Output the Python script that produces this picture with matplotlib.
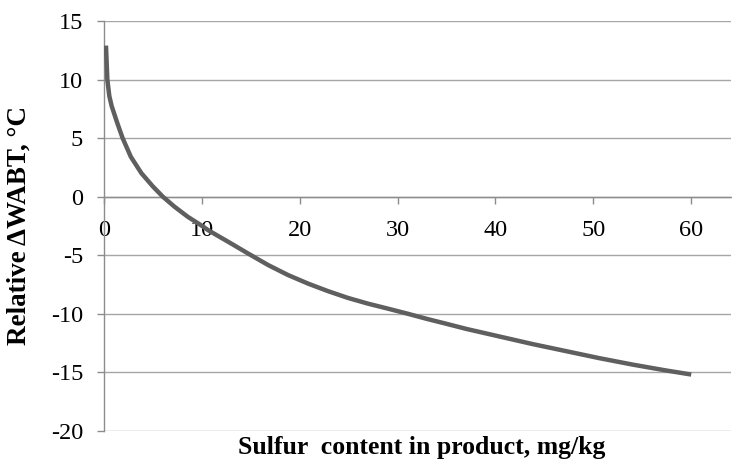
import matplotlib
matplotlib.use('Agg')
import matplotlib.pyplot as plt

# values
sulfur = [0.2, 0.34, 0.54, 0.78, 1.35, 1.9, 2.74, 3.82, 5.0, 6.0, 7.2, 8.55, 9.9, 10.7,
          12.77, 14.8, 16.8, 18.8, 20.9, 22.9, 24.9, 26.95, 29.0, 31.0, 33.0, 35.05,
          37.0, 40.4, 43.8, 47.2, 50.6, 54.0, 57.4, 60.0]
dwabt = [12.9, 10.0, 8.6, 7.74, 6.3, 5.0, 3.4, 2.0, 0.86, 0.0, -0.86, -1.72, -2.44, -2.9,
         -3.9, -4.9, -5.86, -6.7, -7.45, -8.08, -8.65, -9.14, -9.57, -10.0, -10.45, -10.88,
         -11.3, -11.95, -12.6, -13.2, -13.8, -14.35, -14.85, -15.2]

x_ticks = [0, 10, 20, 30, 40, 50, 60]
y_ticks = [-20, -15, -10, -5, 0, 5, 10, 15]

plt.rcParams['font.family'] = ['Liberation Serif', 'DejaVu Serif']
plt.rcParams['axes.unicode_minus'] = False

fig = plt.figure(figsize=(7.32, 4.67), dpi=100)
ax = fig.add_axes([0.1421, 0.0777, 0.857, 0.8773])

ax.plot(sulfur, dwabt, color='#5f5f5f', lw=3.2, solid_capstyle='butt',
        solid_joinstyle='round', zorder=3)

ax.set_xlim(0, 64.1)
ax.set_ylim(-20, 15)
ax.set_xticks(x_ticks)
ax.set_yticks(y_ticks)

for s in ['top', 'right']:
    ax.spines[s].set_visible(False)
ax.spines['bottom'].set_position(('data', 0))
for s in ['left', 'bottom']:
    ax.spines[s].set_color('#8c8c8c')
    ax.spines[s].set_linewidth(1.0)

ax.yaxis.grid(True, color='#a6a6a6', lw=1.0)
ax.set_axisbelow(True)
ax.tick_params(axis='both', colors='#8c8c8c', labelcolor='black', labelsize=17.5,
               length=5, width=1.0, direction='out')
ax.tick_params(axis='x', pad=12)
ax.tick_params(axis='y', pad=10)

ax.set_xlabel('Sulfur  content in product, mg/kg', fontsize=18.5, fontweight='bold')
ax.xaxis.set_label_coords(0.506, -0.012)
ax.set_ylabel('Relative \u0394WABT, \u00b0C', fontsize=19.5, fontweight='bold')
ax.yaxis.set_label_coords(-0.115, 0.502)

fig.savefig('out.png', dpi=100)
